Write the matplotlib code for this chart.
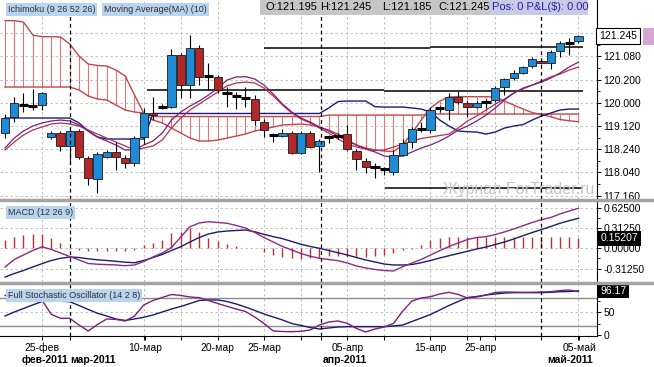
import numpy as np
import matplotlib.pyplot as plt
from matplotlib.patches import Rectangle
from matplotlib.lines import Line2D
from matplotlib.transforms import blended_transform_factory

plt.rcParams['font.family'] = ['Liberation Sans', 'DejaVu Sans']

# ---- price candles (one per trading day) ----
opens = [120.353, 120.505, 120.618, 120.609, 120.618, 120.315, 120.353, 120.230, 120.372, 120.116,
         119.917, 120.128, 120.173, 120.116, 120.073, 120.315, 120.542, 120.602, 120.597, 121.092,
         120.808, 121.156, 120.893, 120.884, 120.735, 120.704, 120.685, 120.672, 120.460, 120.334,
         120.324, 120.356, 120.166, 120.350, 120.230, 120.315, 120.324, 120.340, 120.185, 120.090,
         120.033, 120.009, 119.983, 120.144, 120.270, 120.391, 120.381, 120.590, 120.571, 120.691,
         120.634, 120.602, 120.644, 120.666, 120.789, 120.872, 120.925, 120.988, 121.038, 121.014,
         121.133, 121.209, 121.228]
highs = [120.533, 120.694, 120.732, 120.770, 120.742, 120.372, 120.372, 120.391, 120.391, 120.135,
         120.173, 120.192, 120.267, 120.144, 120.324, 120.590, 120.694, 120.628, 121.149, 121.111,
         121.282, 121.187, 121.017, 120.903, 120.789, 120.742, 120.789, 120.713, 120.486, 120.356,
         120.391, 120.372, 120.372, 120.372, 120.296, 120.334, 120.353, 120.429, 120.201, 120.116,
         120.068, 120.030, 120.192, 120.293, 120.410, 120.457, 120.599, 120.609, 120.732, 120.754,
         120.656, 120.656, 120.675, 120.799, 120.874, 120.950, 120.988, 121.073, 121.054, 121.140,
         121.225, 121.251, 121.282]
lows = [120.305, 120.457, 120.552, 120.571, 120.571, 120.296, 120.182, 120.068, 120.106, 119.860,
        119.784, 120.116, 120.002, 120.021, 120.040, 120.248, 120.476, 120.580, 120.590, 120.685,
        120.685, 120.808, 120.761, 120.732, 120.599, 120.580, 120.599, 120.429, 120.315, 120.267,
        120.315, 120.154, 120.154, 120.211, 119.983, 120.258, 120.296, 120.182, 120.002, 119.973,
        119.926, 119.955, 119.955, 120.135, 120.211, 120.362, 120.353, 120.552, 120.476, 120.628,
        120.507, 120.590, 120.590, 120.647, 120.713, 120.855, 120.912, 120.969, 121.007, 120.957,
        121.071, 121.092, 121.206]
closes = [120.495, 120.637, 120.618, 120.609, 120.732, 120.353, 120.230, 120.372, 120.125, 119.926,
          120.154, 120.175, 120.125, 120.073, 120.305, 120.545, 120.519, 120.602, 121.092, 120.808,
          121.156, 120.887, 120.893, 120.761, 120.735, 120.704, 120.685, 120.476, 120.381, 120.334,
          120.356, 120.166, 120.350, 120.223, 120.280, 120.315, 120.324, 120.198, 120.103, 120.033,
          120.033, 120.009, 120.144, 120.261, 120.388, 120.391, 120.571, 120.590, 120.691, 120.644,
          120.602, 120.634, 120.644, 120.777, 120.862, 120.919, 120.976, 121.052, 121.014, 121.124,
          121.209, 121.209, 121.273]

# ---- Ichimoku cloud, kijun and moving averages ----
span_a = [121.418, 121.418, 121.405, 121.282, 121.266, 121.266, 121.263, 121.197, 121.083, 121.007,
          120.993, 120.988, 120.950, 120.893, 120.713, 120.542, 120.476, 120.448, 120.400, 120.353,
          120.305, 120.277, 120.277, 120.286, 120.305, 120.324, 120.343, 120.372, 120.391, 120.410,
          120.429, 120.433, 120.438, 120.429, 120.410, 120.381, 120.343, 120.286, 120.239, 120.211,
          120.192, 120.182, 120.177, 120.239, 120.353, 120.476, 120.590, 120.656, 120.694, 120.697,
          120.697, 120.697, 120.697, 120.694, 120.656, 120.618, 120.580, 120.547, 120.528, 120.507,
          120.481, 120.469, 120.460]
span_b = [120.789, 120.789, 120.789, 120.789, 120.789, 120.789, 120.789, 120.789, 120.761, 120.704,
          120.675, 120.666, 120.618, 120.571, 120.552, 120.542, 120.509, 120.509, 120.509, 120.509,
          120.509, 120.509, 120.509, 120.509, 120.509, 120.509, 120.509, 120.509, 120.509, 120.509,
          120.509, 120.509, 120.509, 120.509, 120.509, 120.523, 120.523, 120.523, 120.523, 120.523,
          120.523, 120.523, 120.523, 120.523, 120.523, 120.523, 120.533, 120.533, 120.533, 120.533,
          120.533, 120.533, 120.533, 120.533, 120.533, 120.533, 120.533, 120.533, 120.533, 120.533,
          120.533, 120.533, 120.533]
kijun = [120.495, 120.495, 120.495, 120.495, 120.495, 120.495, 120.495, 120.495, 120.448, 120.372,
         120.315, 120.296, 120.296, 120.296, 120.296, 120.296, 120.538, 120.538, 120.538, 120.538,
         120.538, 120.538, 120.538, 120.538, 120.538, 120.538, 120.538, 120.538, 120.538, 120.538,
         120.538, 120.538, 120.538, 120.538, 120.538, 120.590, 120.651, 120.656, 120.656, 120.656,
         120.602, 120.599, 120.599, 120.599, 120.590, 120.580, 120.552, 120.476, 120.419, 120.372,
         120.365, 120.362, 120.343, 120.362, 120.400, 120.419, 120.433, 120.476, 120.514, 120.542,
         120.571, 120.580, 120.580]
ma_fast = [120.211, 120.305, 120.372, 120.419, 120.448, 120.467, 120.476, 120.467, 120.429, 120.372,
           120.315, 120.277, 120.239, 120.192, 120.192, 120.239, 120.277, 120.353, 120.476, 120.552,
           120.609, 120.656, 120.713, 120.779, 120.855, 120.884, 120.887, 120.865, 120.808, 120.722,
           120.628, 120.552, 120.495, 120.457, 120.410, 120.372, 120.324, 120.277, 120.239, 120.201,
           120.173, 120.135, 120.125, 120.135, 120.173, 120.211, 120.239, 120.277, 120.324, 120.381,
           120.419, 120.467, 120.523, 120.590, 120.666, 120.732, 120.779, 120.808, 120.836, 120.874,
           120.922, 120.979, 121.026]
ma_slow = [120.192, 120.267, 120.334, 120.381, 120.410, 120.438, 120.448, 120.438, 120.419, 120.381,
           120.343, 120.305, 120.267, 120.230, 120.192, 120.211, 120.230, 120.286, 120.400, 120.495,
           120.571, 120.628, 120.685, 120.742, 120.799, 120.827, 120.836, 120.827, 120.779, 120.704,
           120.618, 120.542, 120.486, 120.448, 120.400, 120.353, 120.296, 120.248, 120.220, 120.201,
           120.187, 120.192, 120.220, 120.248, 120.277, 120.301, 120.315, 120.329, 120.343, 120.400,
           120.467, 120.514, 120.571, 120.628, 120.675, 120.732, 120.770, 120.808, 120.846, 120.884,
           120.912, 120.950, 120.979]

# horizontal levels: start bar, end bar, price
level_start = [28, 46, 15.3, 41, 41.1]
level_end = [46, 62.5, 41, 62.5, 62.5]
level_price = [121.156, 121.165, 120.765, 120.755, 119.836]

# ---- MACD (12 26 9) ----
macd_hist = [0.128, 0.180, 0.205, 0.215, 0.215, 0.165, 0.077, -0.015, -0.031, -0.046,
             -0.046, -0.046, -0.046, -0.046, -0.031, 0.051, 0.077, 0.128, 0.231, 0.257,
             0.308, 0.257, 0.154, 0.112, 0.062, 0.042, 0.011, 0.003, -0.051, -0.103,
             -0.128, -0.154, -0.169, -0.154, -0.143, -0.120, -0.123, -0.128, -0.128, -0.128,
             -0.123, -0.108, -0.077, -0.031, -0.008, 0.051, 0.128, 0.154, 0.180, 0.180,
             0.178, 0.180, 0.172, 0.180, 0.180, 0.180, 0.178, 0.180, 0.178, 0.172,
             0.170, 0.170, 0.152]
macd_line = [-0.288, -0.172, -0.103, -0.034, 0.023, -0.018, -0.072, -0.126, -0.180, -0.234,
             -0.245, -0.251, -0.257, -0.268, -0.257, -0.203, -0.134, -0.072, 0.012, 0.174,
             0.332, 0.389, 0.409, 0.397, 0.385, 0.351, 0.312, 0.243, 0.166, 0.097,
             0.028, -0.026, -0.080, -0.123, -0.154, -0.172, -0.191, -0.226, -0.272, -0.303,
             -0.326, -0.342, -0.349, -0.283, -0.226, -0.172, -0.103, -0.037, 0.028, 0.082,
             0.135, 0.166, 0.179, 0.212, 0.251, 0.297, 0.348, 0.397, 0.440, 0.474,
             0.528, 0.574, 0.616]
macd_signal = [-0.442, -0.388, -0.342, -0.288, -0.237, -0.188, -0.154, -0.134, -0.142, -0.162,
               -0.177, -0.188, -0.200, -0.214, -0.222, -0.188, -0.142, -0.095, -0.034, 0.025,
               0.097, 0.166, 0.220, 0.251, 0.266, 0.274, 0.282, 0.254, 0.215, 0.179,
               0.148, 0.105, 0.062, 0.028, 0.000, -0.034, -0.069, -0.103, -0.142, -0.180,
               -0.211, -0.242, -0.257, -0.257, -0.249, -0.222, -0.188, -0.149, -0.114, -0.080,
               -0.046, -0.011, 0.020, 0.058, 0.097, 0.143, 0.194, 0.243, 0.289, 0.335,
               0.385, 0.425, 0.462]

# ---- Full Stochastic (14 2 8) ----
stoch_k = [86, 91, 88, 82, 76, 45, 36.4, 36.4, 21.8, 8.7,
           22.9, 34.9, 33.8, 30.5, 41.4, 65.4, 75.2, 81.7, 88.2, 86.1,
           82.8, 81.3, 75.2, 68.6, 62.5, 56.6, 51.2, 39.2, 25.1, 8.7,
           7.6, 7.2, 8.1, 10.9, 21.8, 28.3, 30.5, 25.5, 14.2, 6.5,
           13.1, 17.4, 25.1, 52.3, 74.1, 80.6, 83.4, 89.3, 93.0, 88.2,
           80.6, 82.8, 87.1, 92.6, 93.7, 93.2, 93.0, 93.0, 93.7, 94.3,
           96.9, 98.0, 94.3]
stoch_d = [41.4, 50.1, 57.7, 65.4, 73.0, 74.1, 73.4, 72.5, 64.3, 55.6,
           47.3, 41.4, 34.9, 31.6, 34.9, 38.6, 43.6, 50.1, 56.6, 62.1,
           68.6, 75.2, 76.3, 76.3, 73.0, 67.5, 61.0, 53.4, 45.8, 39.2,
           32.7, 25.1, 20.7, 16.3, 13.1, 15.3, 17.4, 18.1, 18.1, 18.1,
           18.1, 18.1, 19.6, 21.8, 29.4, 37.0, 44.7, 54.5, 64.3, 73.0,
           81.7, 83.9, 87.1, 89.3, 91.5, 92.2, 92.2, 92.2, 92.2, 93.0,
           94.3, 94.8, 96.17]

# ---- axis labels ----
price_ticks = [121.300, 121.080, 120.860, 120.640, 120.420, 120.200, 119.980, 119.760]
price_labels = ['', '121.080', '120.200', '120.000', '119.120', '118.240', '118.040', '117.160']
macd_ticks = [0.625, 0.3125, 0.0, -0.3125]
macd_labels = ['0.62500', '0.31250', '0.00000', '-0.31250']
date_labels = ['25-фев', '10-мар', '20-мар', '25-мар', '05-апр', '15-апр', '25-апр', '05-май']
date_pos = [4, 15.1, 23, 28, 37, 46, 51.4, 62.1]
month_labels = ['фев-2011', 'мар-2011', 'апр-2011', 'май-2011']
month_label_pos = [6.84, 7.03, 34.4, 58.6]
month_lines = [7, 34.2, 58]
grid_x = [4, 15, 19, 23, 28, 32, 37, 41, 46, 50, 53, 62]

n = len(opens)
idx = np.arange(n)

W, H = 654, 367
fig = plt.figure(figsize=(W / 100, H / 100), dpi=100)
fig.patch.set_facecolor('white')


def fx(px):
    return px / W


def fy(py):
    return 1 - py / H


def panel(top, bottom):
    return fig.add_axes([0, fy(bottom), fx(597), (bottom - top) / H])


ax = panel(0, 198.5)
ax_m = panel(201.5, 281.5)
ax_s = panel(284, 336)

grid_kw = dict(color='#b8b8b8', lw=0.6, ls=(0, (3, 3)), zorder=0)
for a in (ax, ax_m, ax_s):
    a.set_xlim(-0.54, 64.0)
    for s in ('left', 'top', 'bottom'):
        a.spines[s].set_visible(False)
    a.spines['right'].set_linewidth(0.8)
    a.yaxis.tick_right()
    a.tick_params(axis='y', which='major', labelsize=7.5, length=3, width=0.7, pad=1.5)
    a.tick_params(axis='y', which='minor', length=2, width=0.6)
    a.tick_params(axis='x', bottom=False, labelbottom=False)
    for g in grid_x:
        a.axvline(g, **grid_kw)
    for m in month_lines:
        a.axvline(m, color='black', lw=0.9, ls=(0, (3, 2.5)), zorder=6)

# ---- main price panel ----
ax.set_ylim(119.732, 121.614)
ax.set_yticks(price_ticks, labels=price_labels)
ax.set_yticks([(price_ticks[i] + price_ticks[i + 1]) / 2 for i in range(len(price_ticks) - 1)], minor=True)
for t in price_ticks:
    ax.axhline(t, **grid_kw)

lo = np.minimum(span_a, span_b)
hi = np.maximum(span_a, span_b)
ax.vlines(idx, lo, hi, color='#e07676', lw=0.8, zorder=1)
ax.plot(idx, span_a, color='#c84444', lw=1.0, zorder=2)
ax.plot(idx, span_b, color='#c84444', lw=1.0, zorder=2)

for s, e, p in zip(level_start, level_end, level_price):
    ax.hlines(p, s, e, color='black', lw=1.1, zorder=2.5)

# watermark kept inside the price panel so it does not run into the axis labels
ax.text(443 / 597, 0.045, 'Журнал ForTrader.ru', transform=ax.transAxes, fontsize=11.5,
        color='#c6c6c6', va='center', ha='left', zorder=2.6)

ax.plot(idx, kijun, color='#1c1c7a', lw=1.0, zorder=3)
ax.plot(idx, ma_slow, color='#b03050', lw=0.9, zorder=3)
ax.plot(idx, ma_fast, color='#7a1f7f', lw=0.9, zorder=3)

body_w = 0.9
for i in range(n):
    o, h, l, c = opens[i], highs[i], lows[i], closes[i]
    ax.vlines(i, l, h, color='black', lw=0.8, zorder=4)
    if c == o:
        ax.hlines(o, i - 0.5, i + 0.5, color='black', lw=2.2, zorder=5)
    else:
        col = '#1f8bd6' if c > o else '#b0282a'
        ax.add_patch(Rectangle((i - body_w / 2, min(o, c)), body_w, abs(c - o),
                               fc=col, ec='#1a1a1a', lw=0.6, zorder=5))

tr = blended_transform_factory(ax.transAxes, ax.transData)
ax.text(1.004, closes[-1], '121.245', transform=tr, fontsize=7.5, va='center', ha='left',
        bbox=dict(boxstyle='square,pad=0.3', fc='white', ec='black', lw=0.8), zorder=10, clip_on=False)
fig.add_artist(Rectangle((fx(643), fy(45)), fx(11), 17 / H, transform=fig.transFigure,
                         fc='#d6a6d6', ec='none'))

lab_box = dict(boxstyle='square,pad=0.2', fc='#b8d4ee', ec='none')
ax.text(8 / 597, 1 - 9.5 / 198.5, 'Ichimoku (9 26 52 26)', transform=ax.transAxes,
        fontsize=6.5, color='#303030', va='center', bbox=lab_box, zorder=8)
ax.text(104 / 597, 1 - 9.5 / 198.5, 'Moving Average(MA) (10)', transform=ax.transAxes,
        fontsize=6.5, color='#303030', va='center', bbox=lab_box, zorder=8)

# ---- MACD panel ----
ax_m.set_ylim(-0.511, 0.720)
ax_m.set_yticks(macd_ticks, labels=macd_labels)
ax_m.set_yticks([0.46875, 0.15625, -0.15625], minor=True)
for t in macd_ticks:
    ax_m.axhline(t, **grid_kw)
ax_m.vlines(idx, 0, macd_hist, color='#c03030', lw=1.0, zorder=2)
ax_m.plot(idx, macd_signal, color='#1c1c6c', lw=1.0, zorder=3)
ax_m.plot(idx, macd_line, color='#8e2a86', lw=1.0, zorder=3)
trm = blended_transform_factory(ax_m.transAxes, ax_m.transData)
ax_m.text(1.006, macd_hist[-1], '0.15207', transform=trm, fontsize=7.5, color='white',
          va='center', ha='left', bbox=dict(boxstyle='square,pad=0.25', fc='black', ec='none'),
          zorder=10, clip_on=False)
ax_m.text(8 / 597, (281.5 - 212.5) / 80, 'MACD (12 26 9)', transform=ax_m.transAxes,
          fontsize=6.5, color='#303030', va='center', bbox=lab_box, zorder=8)

# ---- Stochastic panel ----
ax_s.set_ylim(-2.2, 111.1)
ax_s.set_yticks([0, 50], labels=['0', '50'])
ax_s.set_yticks([25, 75], minor=True)
ax_s.axhline(50, **grid_kw)
ax_s.axhline(80, color='#8c8c8c', lw=1.0, zorder=1)
ax_s.axhline(20, color='#8c8c8c', lw=1.0, zorder=1)
ax_s.plot(idx, stoch_d, color='#1c1c6c', lw=1.0, zorder=3)
ax_s.plot(idx, stoch_k, color='#7a1f7f', lw=1.0, zorder=3)
trs = blended_transform_factory(ax_s.transAxes, ax_s.transData)
ax_s.text(1.006, stoch_d[-1], '96.17', transform=trs, fontsize=7.5, color='white',
          va='center', ha='left', bbox=dict(boxstyle='square,pad=0.25', fc='black', ec='none'),
          zorder=10, clip_on=False)
ax_s.text(8 / 597, (336 - 295.5) / 52, 'Full Stochastic Oscillator (14 2 8)', transform=ax_s.transAxes,
          fontsize=6.5, color='#303030', va='center', bbox=lab_box, zorder=8)

ax_s.spines['bottom'].set_visible(True)
ax_s.spines['bottom'].set_linewidth(0.8)
ax_s.set_xticks(date_pos, labels=date_labels)
ax_s.set_xticks(grid_x + month_lines, minor=True)
ax_s.tick_params(axis='x', which='both', bottom=True, labelbottom=True, length=3, width=0.7,
                 labelsize=7.5, pad=2)

trx = blended_transform_factory(ax_s.transData, fig.transFigure)
for lbl, pos in zip(month_labels, month_label_pos):
    ax_s.text(pos, fy(360), lbl, transform=trx, fontsize=7.5, fontweight='bold',
              ha='right' if pos == month_label_pos[0] else 'left', va='center', clip_on=False)

# ---- panel separators ----
for yy in (200, 283):
    fig.add_artist(Line2D([0, 1], [fy(yy), fy(yy)], transform=fig.transFigure,
                          color='#a4a4a4', lw=2.5))

# ---- header: OHLC and position ----
fig.add_artist(Rectangle((fx(260), fy(15)), fx(230), 15 / H, transform=fig.transFigure,
                         fc='#c6c6c6', ec='none'))
fig.add_artist(Rectangle((fx(490), fy(15)), fx(98), 15 / H, transform=fig.transFigure,
                         fc='#cacae6', ec='none'))
header = [('O:121.195', 265), ('H:121.245', 320), ('L:121.185', 382), ('C:121.245', 438)]
for txt, xx in header:
    fig.text(fx(xx), fy(7.5), txt, fontsize=8, va='center', ha='left', color='black')
fig.text(fx(492), fy(7.5), 'Pos: 0 P&L(\\$): 0.00', fontsize=8, va='center', ha='left',
         color='#2020a8')

fig.savefig('out.png', dpi=100)
